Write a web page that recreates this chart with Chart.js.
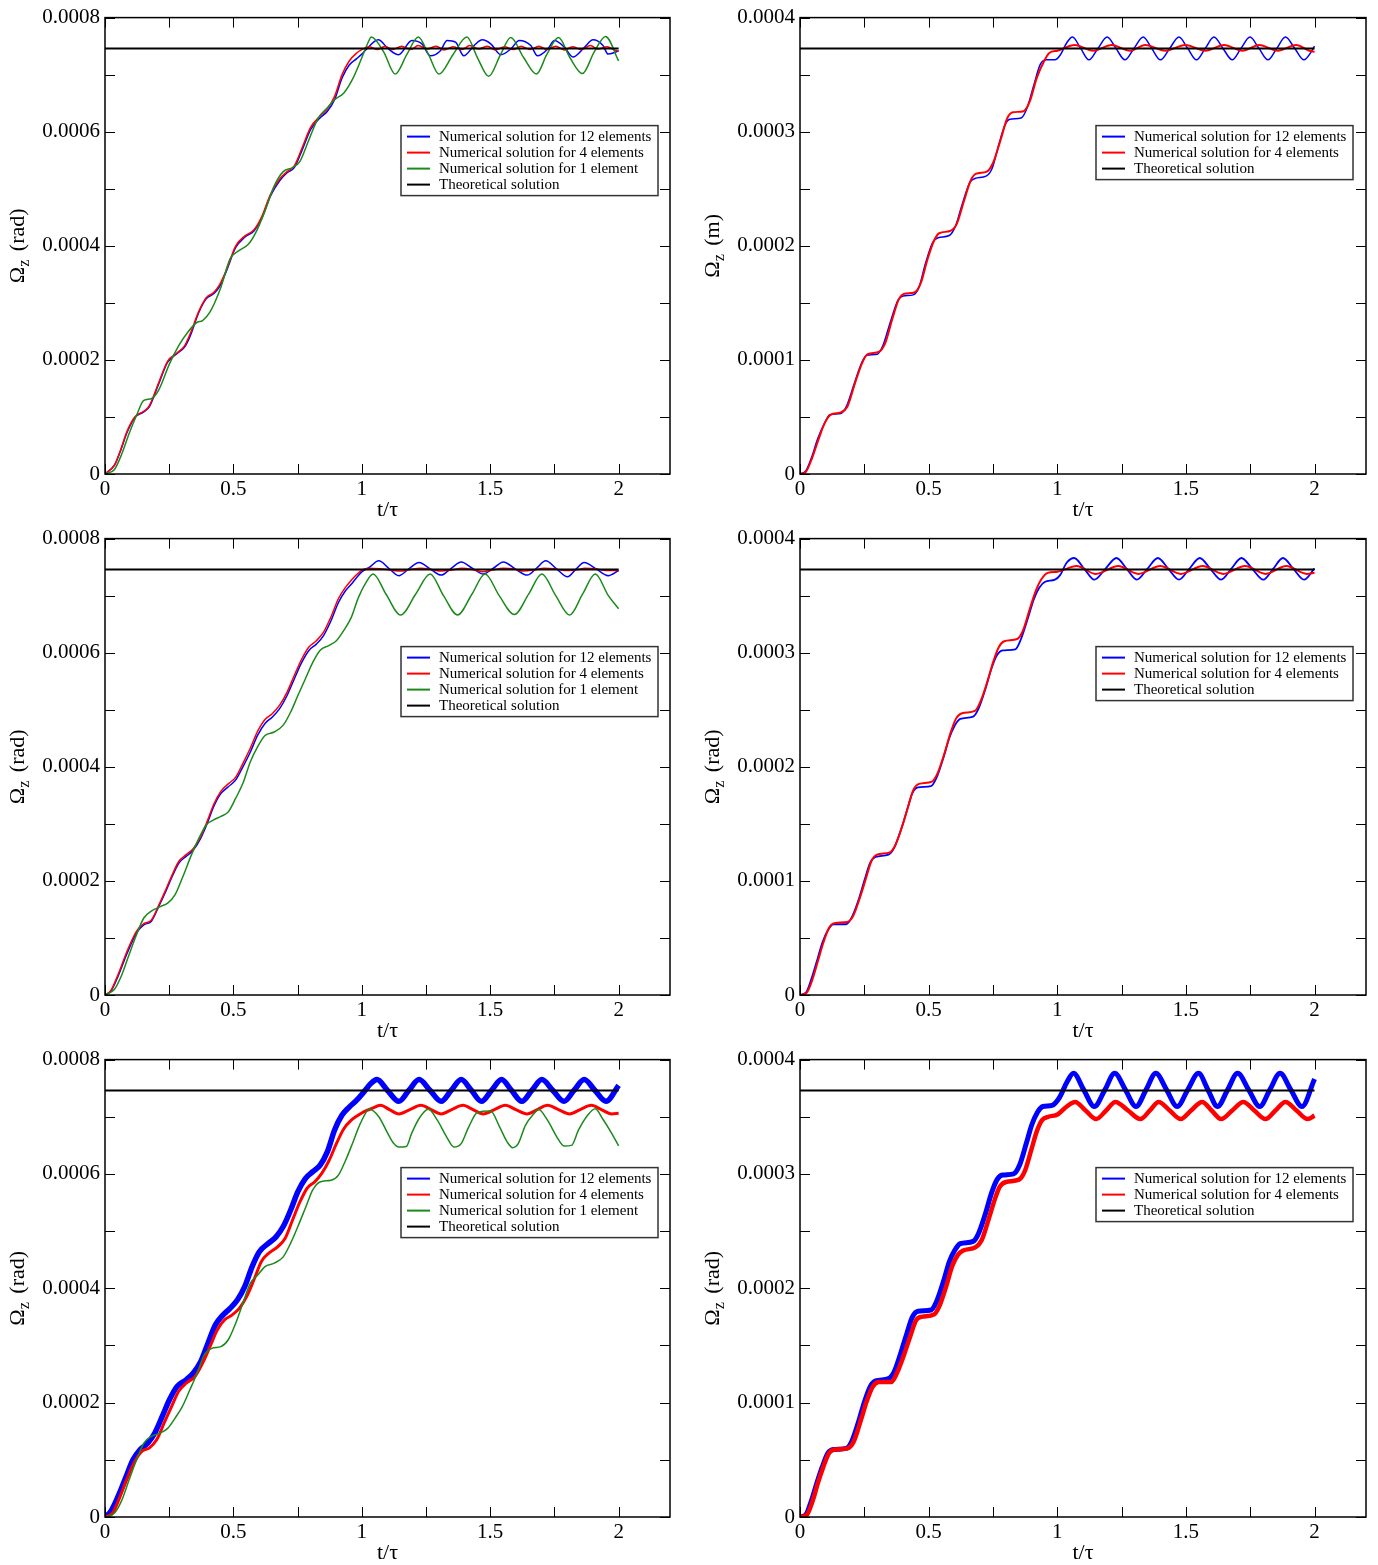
<!DOCTYPE html>
<html>
<head>
<meta charset="utf-8">
<script src="https://cdn.jsdelivr.net/npm/chart.js@4.4.1/dist/chart.umd.min.js"></script>
<style>
  body { margin: 0; background: #fff; width: 1378px; height: 1565px; position: relative; overflow: hidden; }
  canvas { position: absolute; }
</style>
</head>
<body>
<canvas id="tl" width="690" height="521" style="left:0;top:0"></canvas>
<canvas id="tr" width="688" height="521" style="left:690px;top:0"></canvas>
<canvas id="ml" width="690" height="521" style="left:0;top:521px"></canvas>
<canvas id="mr" width="688" height="521" style="left:690px;top:521px"></canvas>
<canvas id="bl" width="690" height="523" style="left:0;top:1042px"></canvas>
<canvas id="br" width="688" height="523" style="left:690px;top:1042px"></canvas>
<script>
// values, t = t/tau, v in units of 1e-4
const theoryLeft = 7.46;
const theoryRight = 3.73;

// top left
const tlBlueT = [0,.037,.059,.087,.116,.151,.173,.209,.244,.28,.309,.33,.366,.394,.423,.444,.473,.509,.544,.58,.609,.644,.68,.709,.737,.766,.801,.837,.866,.894,.923,.951,.98,1.0,1.019,1.064,1.104,1.143,1.195,1.234,1.267,1.306,1.332,1.365,1.397,1.437,1.469,1.502,1.541,1.58,1.613,1.658,1.684,1.724,1.75,1.789,1.822,1.867,1.9,1.939,1.959,1.985,2.0];
const tlBlueV = [0,.16,.39,.74,.99,1.09,1.18,1.58,1.96,2.11,2.22,2.40,2.84,3.07,3.16,3.27,3.56,3.97,4.15,4.26,4.47,4.87,5.14,5.28,5.37,5.66,6.04,6.24,6.36,6.56,6.94,7.17,7.28,7.36,7.45,7.61,7.45,7.35,7.60,7.54,7.33,7.42,7.60,7.57,7.33,7.51,7.61,7.54,7.35,7.45,7.60,7.51,7.33,7.45,7.60,7.48,7.31,7.48,7.61,7.51,7.36,7.39,7.42];
const tlRedT = [0,.037,.059,.087,.116,.151,.173,.209,.244,.28,.309,.33,.366,.394,.423,.444,.473,.509,.544,.58,.609,.644,.68,.709,.737,.766,.801,.837,.866,.894,.923,.951,.98,1.0,1.03,1.06,1.09,1.12,1.155,1.19,1.22,1.255,1.29,1.32,1.355,1.39,1.42,1.455,1.49,1.52,1.555,1.59,1.62,1.655,1.69,1.72,1.755,1.79,1.82,1.855,1.89,1.92,1.955,1.985,2.0];
const tlRedV = [0,.15,.40,.76,1.0,1.10,1.20,1.60,1.98,2.12,2.24,2.44,2.86,3.09,3.18,3.30,3.58,4.0,4.17,4.28,4.50,4.90,5.17,5.30,5.40,5.70,6.08,6.27,6.40,6.62,7.0,7.24,7.38,7.44,7.49,7.44,7.50,7.44,7.50,7.44,7.51,7.45,7.50,7.43,7.49,7.44,7.51,7.45,7.50,7.43,7.49,7.44,7.50,7.44,7.50,7.44,7.50,7.43,7.49,7.44,7.51,7.45,7.49,7.43,7.41];
const tlGreenT = [0,.037,.066,.094,.123,.151,.18,.209,.251,.287,.323,.359,.38,.409,.451,.487,.523,.559,.587,.623,.659,.694,.73,.759,.794,.83,.866,.894,.93,.966,.994,1.023,1.037,1.085,1.13,1.175,1.22,1.26,1.30,1.355,1.409,1.45,1.494,1.54,1.58,1.63,1.68,1.72,1.766,1.81,1.859,1.905,1.949,2.0];
const tlGreenV = [0,.08,.36,.71,1.03,1.29,1.32,1.47,1.93,2.25,2.49,2.66,2.69,2.84,3.27,3.77,3.92,4.03,4.23,4.61,5.05,5.30,5.37,5.48,5.86,6.24,6.42,6.56,6.68,6.94,7.23,7.55,7.66,7.40,7.01,7.35,7.66,7.35,7.01,7.35,7.66,7.30,6.97,7.35,7.65,7.30,7.01,7.35,7.65,7.30,7.02,7.40,7.67,7.24];

// top right
const trBlueT = [0,.023,.044,.069,.094,.116,.159,.18,.209,.237,.259,.301,.323,.351,.38,.401,.44,.463,.487,.516,.537,.58,.604,.63,.659,.68,.723,.747,.773,.797,.816,.859,.883,.909,.934,.959,.991,1.011,1.037,1.059,1.091,1.123,1.158,1.194,1.228,1.263,1.298,1.334,1.367,1.401,1.437,1.473,1.507,1.541,1.575,1.609,1.644,1.68,1.714,1.749,1.784,1.819,1.853,1.887,1.923,1.959,1.987,2.0];
const trBlueV = [0,.03,.14,.31,.44,.52,.53,.59,.78,.96,1.04,1.05,1.13,1.33,1.52,1.56,1.57,1.64,1.84,2.03,2.07,2.09,2.17,2.36,2.55,2.59,2.61,2.68,2.89,3.06,3.11,3.12,3.21,3.41,3.59,3.63,3.63,3.67,3.78,3.83,3.73,3.63,3.73,3.83,3.73,3.63,3.73,3.83,3.73,3.63,3.73,3.83,3.73,3.63,3.73,3.83,3.73,3.63,3.73,3.83,3.73,3.63,3.73,3.83,3.73,3.63,3.70,3.75];
const trRedT = [0,.023,.047,.073,.097,.12,.159,.184,.213,.241,.263,.306,.33,.359,.384,.406,.444,.469,.494,.52,.541,.583,.609,.637,.663,.683,.726,.751,.78,.806,.827,.869,.894,.92,.949,.969,1.001,1.068,1.14,1.211,1.283,1.342,1.42,1.498,1.576,1.648,1.72,1.785,1.857,1.928,1.98,2.0];
const trRedV = [0,.02,.14,.31,.45,.52,.54,.59,.79,.97,1.05,1.07,1.14,1.36,1.53,1.58,1.59,1.67,1.87,2.04,2.11,2.13,2.19,2.39,2.57,2.63,2.65,2.73,2.93,3.12,3.17,3.18,3.27,3.47,3.62,3.69,3.71,3.76,3.71,3.76,3.71,3.76,3.71,3.76,3.71,3.76,3.71,3.76,3.71,3.76,3.71,3.70];

// middle left
const mlBlueT = [0,.023,.051,.087,.123,.151,.18,.209,.237,.259,.287,.316,.344,.373,.401,.423,.451,.48,.509,.537,.566,.594,.623,.651,.68,.709,.737,.766,.794,.823,.851,.88,.909,.937,.959,.98,1.001,1.03,1.066,1.105,1.144,1.183,1.223,1.266,1.309,1.348,1.387,1.43,1.473,1.512,1.551,1.597,1.644,1.68,1.716,1.758,1.801,1.833,1.866,1.912,1.959,2.0];
const mlBlueV = [0,.07,.33,.74,1.09,1.23,1.29,1.55,1.82,2.05,2.31,2.43,2.54,2.75,3.04,3.30,3.53,3.65,3.77,4.0,4.26,4.55,4.76,4.87,5.02,5.25,5.54,5.83,6.04,6.15,6.30,6.56,6.88,7.09,7.20,7.32,7.42,7.50,7.61,7.48,7.35,7.47,7.58,7.47,7.36,7.48,7.59,7.48,7.38,7.48,7.59,7.47,7.36,7.48,7.61,7.47,7.33,7.46,7.58,7.47,7.35,7.44];
const mlRedT = [0,.023,.051,.087,.123,.151,.18,.209,.237,.259,.287,.316,.344,.373,.401,.423,.451,.48,.509,.537,.566,.594,.623,.651,.68,.709,.737,.766,.794,.823,.851,.88,.909,.937,.959,.98,1.001,1.03,1.07,1.11,1.15,1.19,1.23,1.27,1.31,1.35,1.39,1.43,1.47,1.51,1.55,1.59,1.63,1.67,1.71,1.75,1.79,1.83,1.87,1.91,1.95,2.0];
const mlRedV = [0,.08,.36,.78,1.12,1.25,1.31,1.57,1.85,2.08,2.34,2.46,2.57,2.78,3.08,3.34,3.57,3.70,3.82,4.06,4.33,4.62,4.83,4.93,5.08,5.31,5.60,5.89,6.10,6.21,6.36,6.63,6.95,7.15,7.27,7.37,7.45,7.48,7.47,7.45,7.43,7.46,7.48,7.46,7.43,7.45,7.48,7.46,7.42,7.45,7.48,7.47,7.43,7.45,7.48,7.47,7.44,7.45,7.48,7.47,7.44,7.44];
const mlGreenT = [0,.037,.066,.094,.123,.151,.18,.216,.244,.273,.301,.337,.366,.394,.423,.451,.48,.509,.537,.566,.594,.623,.659,.694,.723,.751,.78,.809,.837,.873,.901,.93,.959,.987,1.016,1.044,1.095,1.151,1.21,1.266,1.318,1.373,1.428,1.48,1.535,1.594,1.65,1.701,1.755,1.809,1.86,1.909,1.96,2.0];
const mlGreenV = [0,.10,.36,.71,1.06,1.35,1.47,1.55,1.61,1.76,2.05,2.46,2.75,2.98,3.07,3.13,3.21,3.45,3.71,4.09,4.35,4.55,4.61,4.73,4.96,5.25,5.54,5.83,6.04,6.13,6.21,6.39,6.62,6.97,7.23,7.38,7.02,6.66,7.03,7.38,7.0,6.66,7.02,7.38,7.0,6.67,7.03,7.38,7.0,6.66,7.03,7.38,7.0,6.77];

// middle right
const mrBlueT = [0,.023,.044,.066,.087,.109,.13,.18,.201,.23,.251,.273,.294,.344,.366,.394,.416,.437,.459,.509,.53,.559,.58,.601,.623,.673,.694,.723,.744,.766,.787,.837,.859,.887,.909,.93,.951,.991,1.011,1.037,1.066,1.105,1.144,1.187,1.23,1.27,1.309,1.35,1.391,1.432,1.473,1.513,1.554,1.595,1.637,1.676,1.716,1.758,1.801,1.839,1.877,1.918,1.959,2.0];
const mrBlueV = [0,.02,.14,.30,.46,.57,.62,.62,.68,.85,1.01,1.16,1.21,1.23,1.29,1.46,1.62,1.77,1.82,1.83,1.90,2.09,2.25,2.36,2.42,2.44,2.51,2.70,2.86,2.98,3.02,3.03,3.12,3.31,3.47,3.57,3.62,3.64,3.68,3.79,3.83,3.735,3.64,3.735,3.83,3.735,3.64,3.735,3.83,3.735,3.64,3.735,3.83,3.735,3.64,3.735,3.83,3.735,3.64,3.735,3.83,3.735,3.64,3.74];
const mrRedT = [0,.026,.049,.07,.091,.113,.134,.184,.206,.234,.256,.277,.299,.349,.37,.399,.42,.441,.463,.513,.534,.563,.584,.606,.63,.68,.701,.73,.751,.773,.794,.844,.866,.894,.916,.937,.963,1.001,1.075,1.15,1.237,1.315,1.4,1.48,1.565,1.645,1.73,1.81,1.89,1.97,2.0];
const mrRedV = [0,.02,.14,.30,.46,.59,.63,.64,.69,.86,1.02,1.17,1.23,1.25,1.31,1.49,1.65,1.80,1.85,1.87,1.94,2.13,2.29,2.42,2.47,2.49,2.57,2.76,2.92,3.05,3.10,3.12,3.19,3.39,3.54,3.64,3.70,3.71,3.76,3.69,3.76,3.69,3.76,3.69,3.76,3.69,3.76,3.69,3.76,3.69,3.70];

// bottom left
const blBlueT = [0,.023,.051,.08,.109,.137,.166,.194,.223,.251,.28,.316,.344,.373,.401,.43,.459,.487,.516,.544,.573,.601,.637,.666,.694,.723,.751,.78,.809,.837,.866,.894,.923,.951,.98,1.009,1.037,1.059,1.10,1.144,1.183,1.223,1.266,1.309,1.348,1.387,1.427,1.466,1.505,1.544,1.583,1.623,1.662,1.701,1.744,1.787,1.826,1.866,1.908,1.951,2.0];
const blBlueV = [0,.10,.36,.68,1.0,1.18,1.29,1.47,1.76,2.05,2.28,2.40,2.52,2.72,3.04,3.36,3.53,3.65,3.80,4.03,4.38,4.64,4.79,4.90,5.08,5.37,5.69,5.92,6.04,6.15,6.39,6.77,7.03,7.17,7.29,7.44,7.59,7.65,7.46,7.27,7.46,7.65,7.46,7.27,7.46,7.65,7.46,7.27,7.46,7.65,7.46,7.27,7.46,7.65,7.46,7.27,7.46,7.65,7.46,7.27,7.55];
const blRedT = [0,.03,.059,.087,.116,.144,.173,.201,.23,.259,.287,.316,.351,.38,.409,.437,.466,.494,.523,.551,.58,.609,.637,.673,.701,.73,.759,.787,.816,.844,.873,.901,.93,.959,.987,1.009,1.037,1.073,1.108,1.144,1.187,1.23,1.27,1.309,1.35,1.394,1.433,1.473,1.516,1.559,1.6,1.644,1.683,1.723,1.766,1.809,1.85,1.894,1.933,1.973,2.0];
const blRedV = [0,.07,.36,.68,.97,1.15,1.21,1.35,1.64,1.93,2.20,2.34,2.46,2.69,2.98,3.27,3.45,3.53,3.65,3.85,4.15,4.47,4.61,4.73,4.87,5.19,5.51,5.75,5.86,6.01,6.24,6.53,6.79,6.94,7.03,7.09,7.14,7.20,7.125,7.05,7.125,7.20,7.125,7.05,7.125,7.20,7.125,7.05,7.125,7.20,7.125,7.05,7.125,7.20,7.125,7.05,7.125,7.20,7.125,7.05,7.06];
const blGreenT = [0,.037,.066,.094,.123,.151,.18,.216,.244,.273,.301,.33,.359,.387,.416,.451,.48,.509,.537,.566,.594,.623,.659,.694,.723,.751,.78,.809,.837,.88,.909,.937,.966,.994,1.03,1.066,1.101,1.123,1.144,1.173,1.194,1.223,1.259,1.294,1.33,1.359,1.387,1.416,1.451,1.501,1.537,1.566,1.587,1.609,1.637,1.673,1.687,1.723,1.759,1.787,1.816,1.844,1.88,1.909,1.937,1.973,2.0];
const blGreenV = [0,.07,.30,.65,1.0,1.29,1.41,1.47,1.55,1.73,1.93,2.22,2.52,2.84,2.95,2.98,3.10,3.39,3.74,4.09,4.23,4.38,4.44,4.55,4.79,5.08,5.40,5.72,5.86,5.89,5.98,6.24,6.56,6.88,7.13,7.0,6.71,6.54,6.47,6.48,6.71,6.97,7.13,6.94,6.65,6.47,6.53,6.82,7.08,7.10,6.82,6.56,6.46,6.53,6.85,7.07,7.13,6.94,6.65,6.49,6.50,6.77,7.03,7.14,6.97,6.71,6.49];

// bottom right
const brBlueT = [0,.023,.044,.066,.087,.109,.13,.18,.201,.23,.251,.273,.294,.344,.366,.394,.416,.437,.459,.509,.53,.559,.58,.601,.623,.673,.694,.723,.744,.766,.787,.83,.854,.88,.901,.923,.944,.98,1.009,1.037,1.063,1.103,1.144,1.185,1.223,1.265,1.306,1.345,1.383,1.425,1.466,1.507,1.549,1.586,1.623,1.662,1.701,1.744,1.787,1.826,1.866,1.908,1.951,2.0];
const brBlueV = [0,.02,.14,.30,.44,.56,.59,.60,.66,.85,1.01,1.14,1.19,1.21,1.27,1.45,1.61,1.75,1.80,1.81,1.88,2.07,2.23,2.33,2.39,2.41,2.48,2.67,2.83,2.95,2.99,3.00,3.08,3.27,3.43,3.54,3.59,3.60,3.67,3.80,3.88,3.735,3.59,3.735,3.88,3.735,3.59,3.735,3.88,3.735,3.59,3.735,3.88,3.735,3.59,3.735,3.88,3.735,3.59,3.735,3.88,3.735,3.59,3.83];
const brRedT = [0,.027,.049,.07,.091,.113,.137,.184,.209,.237,.259,.283,.306,.354,.377,.406,.43,.451,.473,.52,.541,.57,.591,.613,.634,.683,.706,.734,.756,.777,.801,.851,.873,.899,.92,.941,.966,1.001,1.037,1.069,1.11,1.151,1.19,1.226,1.275,1.323,1.36,1.394,1.437,1.48,1.52,1.563,1.6,1.637,1.68,1.723,1.766,1.809,1.848,1.887,1.93,1.973,2.0];
const brRedV = [0,.02,.14,.30,.44,.56,.59,.60,.66,.85,1.01,1.14,1.18,1.18,1.26,1.43,1.59,1.72,1.75,1.77,1.84,2.03,2.19,2.29,2.33,2.36,2.42,2.61,2.77,2.89,2.93,2.95,3.02,3.21,3.37,3.47,3.50,3.52,3.59,3.63,3.555,3.48,3.555,3.63,3.555,3.48,3.555,3.63,3.555,3.48,3.555,3.63,3.555,3.48,3.555,3.63,3.555,3.48,3.555,3.63,3.555,3.48,3.51];

const BLUE = '#0000ff', RED = '#ff0000', GREEN = '#1b8a1b', BLACK = '#000000';
const L12 = 'Numerical solution for 12 elements';
const L4 = 'Numerical solution for 4 elements';
const L1 = 'Numerical solution for 1 element';
const LTH = 'Theoretical solution';
const SERIF = '"Liberation Serif", "Times New Roman", serif';

function pts(ts, vs) {
    const n = Math.min(ts.length, vs.length);
    const out = [];
    for (let i = 0; i < n; i++) out.push({ x: ts[i], y: vs[i] });
    return out;
}

function line(label, ts, vs, color, width, order) {
    return { label, data: pts(ts, vs), borderColor: color, backgroundColor: color,
             borderWidth: width, pointRadius: 0, fill: false, order,
             cubicInterpolationMode: 'monotone' };
}

function theory(v) {
    return { label: LTH, data: pts([0, 2], [v, v]), borderColor: BLACK, backgroundColor: BLACK,
             borderWidth: 2, pointRadius: 0, fill: false, order: 0 };
}

// frame, inward ticks on all sides, legend and axis titles, xmgrace style
const gracePlugin = {
    id: 'grace',
    afterDatasetsDraw(chart, args, opts) {
        const { ctx, chartArea: a, scales: { x, y } } = chart;
        ctx.save();
        ctx.strokeStyle = '#000';
        ctx.lineWidth = 1;
        ctx.beginPath();
        x.ticks.forEach(t => {
            const px = Math.round(x.getPixelForValue(t.value)) + 0.5;
            ctx.moveTo(px, a.bottom); ctx.lineTo(px, a.bottom - 10);
            ctx.moveTo(px, a.top); ctx.lineTo(px, a.top + 10);
        });
        y.ticks.forEach(t => {
            const py = Math.round(y.getPixelForValue(t.value)) + 0.5;
            ctx.moveTo(a.left, py); ctx.lineTo(a.left + 10, py);
            ctx.moveTo(a.right, py); ctx.lineTo(a.right - 10, py);
        });
        ctx.stroke();
        ctx.lineWidth = 1.5;
        ctx.strokeRect(a.left, a.top, a.right - a.left, a.bottom - a.top);

        // legend box
        const ds = chart.data.datasets;
        const lx = a.left + 296, ly = a.top + 108, lw = 257, lh = ds.length * 16 + 6;
        ctx.fillStyle = '#fff';
        ctx.fillRect(lx, ly, lw, lh);
        ctx.strokeStyle = '#333';
        ctx.lineWidth = 1.5;
        ctx.strokeRect(lx, ly, lw, lh);
        ctx.font = '15px ' + SERIF;
        ctx.textBaseline = 'middle';
        ds.forEach((d, i) => {
            const yy = ly + 11 + 16 * i;
            ctx.strokeStyle = d.borderColor;
            ctx.lineWidth = 2;
            ctx.beginPath(); ctx.moveTo(lx + 6, yy); ctx.lineTo(lx + 29, yy); ctx.stroke();
            ctx.fillStyle = '#000';
            ctx.fillText(d.label, lx + 38, yy);
        });

        // x title
        ctx.font = '22px ' + SERIF;
        ctx.textAlign = 'center';
        ctx.fillText('t/\u03c4', (a.left + a.right) / 2, a.bottom + 36);

        // y title with subscript
        ctx.translate(a.left - 87, (a.top + a.bottom) / 2);
        ctx.rotate(-Math.PI / 2);
        ctx.textAlign = 'left';
        const big = '22px ' + SERIF, small = '16px ' + SERIF;
        const rest = ' (' + opts.unit + ')';
        ctx.font = big; const w1 = ctx.measureText('\u03a9').width; const w3 = ctx.measureText(rest).width;
        ctx.font = small; const w2 = ctx.measureText('z').width + 3;
        let cx = -(w1 + w2 + w3) / 2;
        ctx.font = big; ctx.fillText('\u03a9', cx, 0); cx += w1;
        ctx.font = small; ctx.fillText('z', cx, 7); cx += w2;
        ctx.font = big; ctx.fillText(rest, cx, 0);
        ctx.restore();
    }
};

function makeChart(id, cx, cy, w, h, area, ymax, unit, datasets) {
    const yw = area[0] - cx, padTop = area[1] - cy, padRight = cx + w - area[2], xh = cy + h - area[3];
    const tickFont = { family: SERIF, size: 21 };
    new Chart(document.getElementById(id), {
        type: 'line',
        data: { datasets },
        options: {
            responsive: false,
            animation: false,
            layout: { autoPadding: false, padding: { left: 0, top: padTop, right: padRight, bottom: 0 } },
            plugins: { legend: { display: false }, tooltip: { enabled: false }, grace: { unit } },
            scales: {
                x: {
                    type: 'linear', min: 0, max: 2.2,
                    afterFit: s => { s.height = xh; },
                    grid: { display: false, drawTicks: false }, border: { display: false },
                    ticks: {
                        stepSize: 0.25, includeBounds: false, autoSkip: false, maxRotation: 0, padding: 3,
                        color: '#000', font: tickFont,
                        callback: v => Math.abs(v * 2 - Math.round(v * 2)) < 1e-9 ? String(Math.round(v * 2) / 2) : ''
                    }
                },
                y: {
                    type: 'linear', min: 0, max: ymax,
                    afterFit: s => { s.width = yw; },
                    grid: { display: false, drawTicks: false }, border: { display: false },
                    ticks: {
                        stepSize: ymax === 8 ? 1 : 0.5, includeBounds: false, autoSkip: false, padding: 5,
                        color: '#000', font: tickFont,
                        callback: v => {
                            const major = ymax === 8 ? 2 : 1;
                            if (Math.abs(v / major - Math.round(v / major)) > 1e-9) return '';
                            return v === 0 ? '0' : (v / 10000).toFixed(4);
                        }
                    }
                }
            }
        },
        plugins: [gracePlugin]
    });
}

makeChart('tl', 0, 0, 690, 521, [105, 16, 670, 474], 8, 'rad', [
    line(L12, tlBlueT, tlBlueV, BLUE, 1.5, 3),
    line(L4, tlRedT, tlRedV, RED, 1.5, 2),
    line(L1, tlGreenT, tlGreenV, GREEN, 1.5, 1),
    theory(theoryLeft)
]);
makeChart('tr', 690, 0, 688, 521, [800, 16, 1366, 474], 4, 'm', [
    line(L12, trBlueT, trBlueV, BLUE, 1.5, 3),
    line(L4, trRedT, trRedV, RED, 2, 2),
    theory(theoryRight)
]);
makeChart('ml', 0, 521, 690, 521, [105, 538, 670, 995], 8, 'rad', [
    line(L12, mlBlueT, mlBlueV, BLUE, 1.5, 3),
    line(L4, mlRedT, mlRedV, RED, 1.5, 2),
    line(L1, mlGreenT, mlGreenV, GREEN, 1.5, 1),
    theory(theoryLeft)
]);
makeChart('mr', 690, 521, 688, 521, [800, 538, 1366, 995], 4, 'rad', [
    line(L12, mrBlueT, mrBlueV, BLUE, 1.8, 3),
    line(L4, mrRedT, mrRedV, RED, 2, 2),
    theory(theoryRight)
]);
makeChart('bl', 0, 1042, 690, 523, [105, 1059, 670, 1517], 8, 'rad', [
    line(L12, blBlueT, blBlueV, BLUE, 5.5, 3),
    line(L4, blRedT, blRedV, RED, 3, 2),
    line(L1, blGreenT, blGreenV, GREEN, 1.5, 1),
    theory(theoryLeft)
]);
makeChart('br', 690, 1042, 688, 523, [800, 1059, 1366, 1517], 4, 'rad', [
    line(L12, brBlueT, brBlueV, BLUE, 5, 3),
    line(L4, brRedT, brRedV, RED, 4.5, 2),
    theory(theoryRight)
]);
</script>
</body>
</html>
